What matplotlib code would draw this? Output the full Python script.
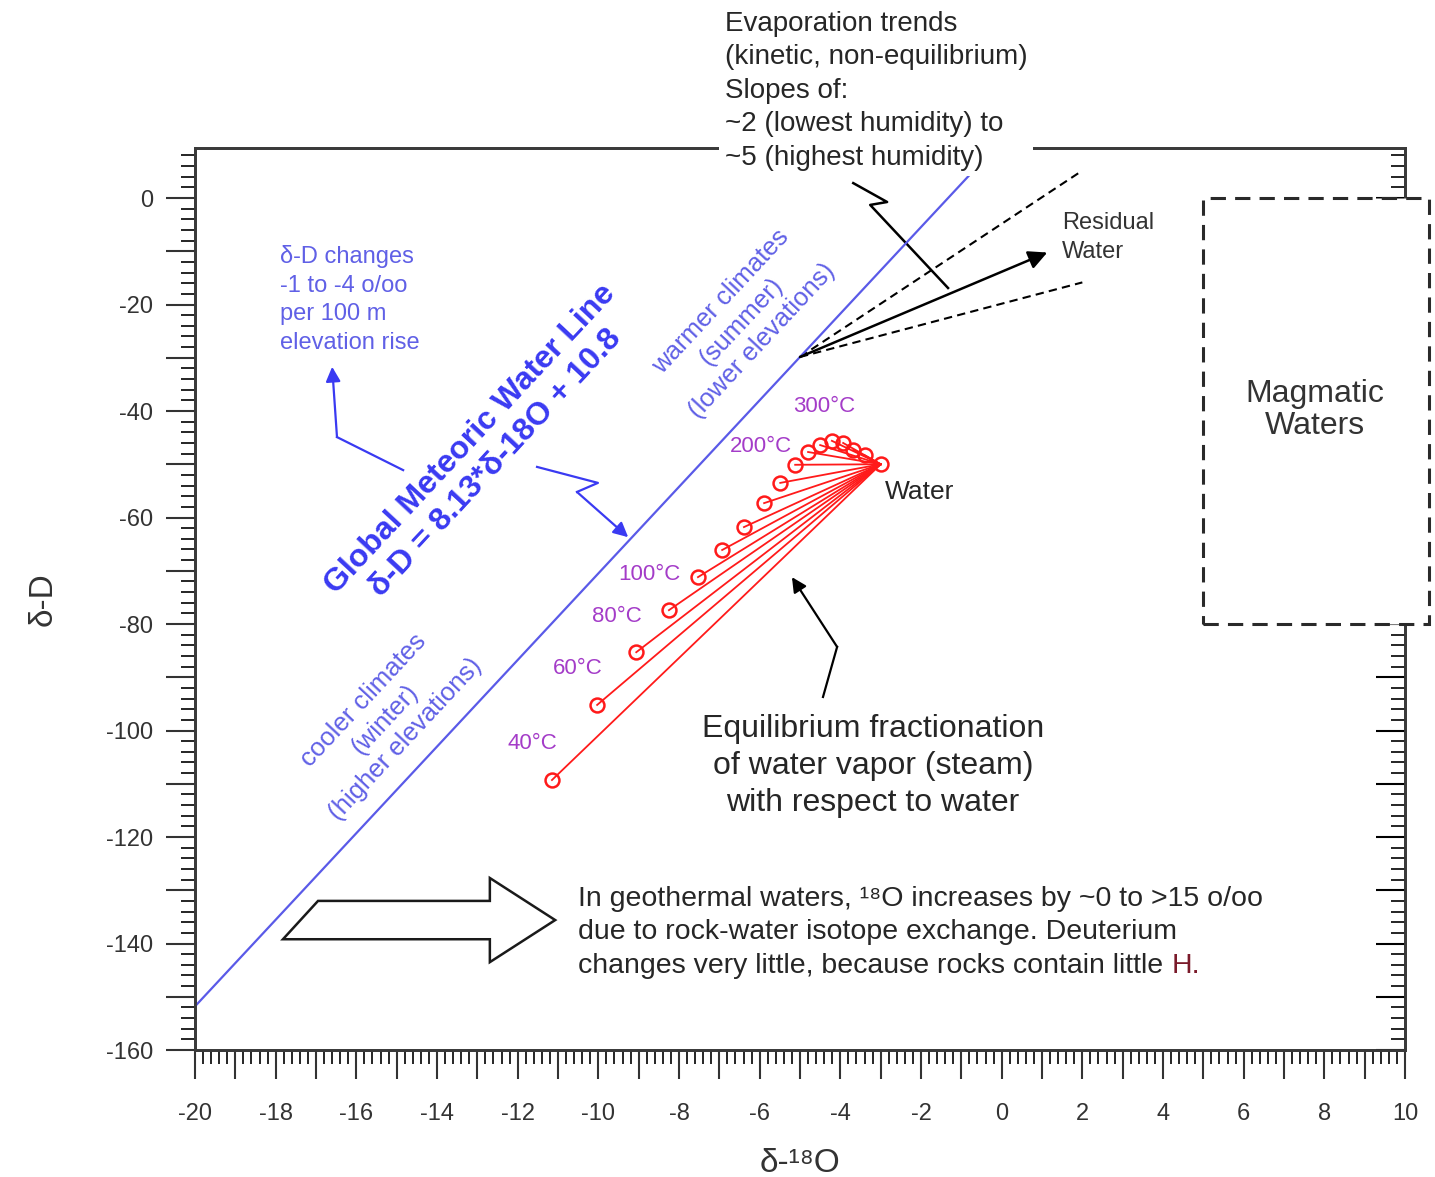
import numpy as np
import matplotlib
matplotlib.use("Agg")
import matplotlib.pyplot as plt
from matplotlib.patches import Rectangle, Polygon
from matplotlib.ticker import MultipleLocator, FuncFormatter

plt.rcParams['font.family'] = ['Liberation Sans', 'DejaVu Sans']

# Global meteoric water line: dD = 8.13 * d18O + 10.8
gmwl_slope = 8.13
gmwl_icpt = 10.8
gmwl_x = [-20.0, -0.75]

# water and equilibrium vapor compositions at each temperature
water = (-3.0, -50.0)
temps = [40, 60, 80, 100, 120, 140, 160, 180, 200, 220, 240, 260, 280, 300, 320, 340]
vapor_d18O = [-11.15, -10.03, -9.06, -8.25, -7.53, -6.93, -6.39, -5.89, -5.49,
              -5.12, -4.80, -4.50, -4.21, -3.93, -3.68, -3.40]
vapor_dD = [-109.3, -95.2, -85.3, -77.4, -71.2, -66.1, -61.8, -57.3, -53.5,
            -50.1, -47.7, -46.4, -45.6, -46.0, -47.3, -48.3]
labelled_temps = [40, 60, 80, 100, 200, 300]

# evaporation trend lines, starting on the GMWL
evap_start_x = -5.0
evap_ends_x = [2.0, 1.13, 2.0]
evap_slopes = [5.0, 3.2, 2.0]

# magmatic water box (d18O range, dD range)
magmatic_x = [5.0, 10.6]
magmatic_y = [-80.0, 0.0]

blue_line = '#5a5ae8'
blue_text = '#3a3af2'
climate_col = '#6060e6'
purple = '#a43cc8'
red = '#ff1a1a'
dark = '#262626'

fig = plt.figure(figsize=(14.35, 11.77), dpi=100)
ax = fig.add_axes([0.1359, 0.1079, 0.8432, 0.7664])
ax.set_xlim(-20, 10)
ax.set_ylim(-160, 9.4)

# axes styling
for s in ax.spines.values():
    s.set_linewidth(2)
    s.set_color('#3a3a3a')
ax.xaxis.set_major_locator(MultipleLocator(1))
ax.xaxis.set_minor_locator(MultipleLocator(0.2))
ax.xaxis.set_major_formatter(FuncFormatter(lambda v, p: '%d' % v if round(v) % 2 == 0 else ''))
ax.yaxis.set_major_locator(MultipleLocator(10))
ax.yaxis.set_minor_locator(MultipleLocator(2))
ax.yaxis.set_major_formatter(FuncFormatter(lambda v, p: '%d' % v if round(v) % 20 == 0 else ''))
ax.tick_params(axis='x', which='major', direction='out', length=21, width=1.5, pad=17,
               labelsize=17, colors='#333333', top=False)
ax.tick_params(axis='x', which='minor', direction='out', length=10, width=1.2, top=False)
ax.tick_params(axis='y', which='major', direction='out', length=21, width=1.5, pad=9,
               labelsize=17, colors='#333333', right=False)
ax.tick_params(axis='y', which='minor', direction='out', length=10, width=1.2, right=False)

ax2 = ax.twinx()
ax2.set_ylim(ax.get_ylim())
ax2.yaxis.set_major_locator(MultipleLocator(10))
ax2.yaxis.set_minor_locator(MultipleLocator(2))
ax2.tick_params(axis='y', which='major', direction='in', length=21, width=1.5, labelright=False)
ax2.tick_params(axis='y', which='minor', direction='in', length=10, width=1.2)
for s in ax2.spines.values():
    s.set_linewidth(2)
    s.set_color('#3a3a3a')

ax.set_xlabel('δ-¹⁸O', fontsize=24, color='#333333', labelpad=17)
ax.set_ylabel('δ-D', fontsize=24, color='#333333', labelpad=34)

# GMWL
gx = np.array(gmwl_x)
ax.plot(gx, gmwl_slope * gx + gmwl_icpt, color=blue_line, lw=1.6, zorder=3)

# equilibrium vapor tie lines and points
for vx, vy in zip(vapor_d18O, vapor_dD):
    ax.plot([water[0], vx], [water[1], vy], color=red, lw=1.3, zorder=4)
ax.plot(vapor_d18O, vapor_dD, 'o', mfc='none', mec=red, mew=1.8, ms=10, zorder=5)
ax.plot([water[0]], [water[1]], 'o', mfc='none', mec=red, mew=1.8, ms=10, zorder=5)
for t, vx, vy in zip(temps, vapor_d18O, vapor_dD):
    if t in labelled_temps:
        ax.annotate('%d°C' % t, (vx, vy), xytext=(-14, 26), textcoords='offset points',
                    ha='center', va='center', fontsize=16, color=purple)

# evaporation trends
evap_y0 = gmwl_slope * evap_start_x + gmwl_icpt
for i, (ex, sl) in enumerate(zip(evap_ends_x, evap_slopes)):
    ey = evap_y0 + sl * (ex - evap_start_x)
    if i == 1:
        ax.annotate('', xy=(ex, ey), xytext=(evap_start_x, evap_y0),
                    arrowprops=dict(arrowstyle='-|>', color='black', lw=1.8,
                                    mutation_scale=28, shrinkA=0, shrinkB=0))
    else:
        ax.plot([evap_start_x, ex], [evap_y0, ey], color='black', lw=1.5, ls=(0, (4, 2.5)))

fig.text(725 / 1435, 1 - 11 / 1177,
         'Evaporation trends\n(kinetic, non-equilibrium)\nSlopes of:\n~2 (lowest humidity) to\n~5 (highest humidity)',
         ha='left', va='top', fontsize=20, color=dark, linespacing=1.37,
         bbox=dict(facecolor='white', edgecolor='none', pad=4))
ax.plot([-3.68, -2.84, -3.26, -1.33], [2.8, -0.75, -1.3, -16.9], color='black', lw=1.8)
ax.text(1.5, -2.6, 'Residual\nWater', ha='left', va='top', fontsize=17, color='#333333',
        linespacing=1.45)

# GMWL annotation
ax.text(-12.85, -47.5, 'Global Meteoric Water Line\nδ-D = 8.13*δ-18O + 10.8', rotation=47,
        rotation_mode='anchor', ha='center', va='center', fontsize=23, fontweight='bold',
        color=blue_text, linespacing=1.2)
ax.text(-17.9, -8.8, 'δ-D changes\n-1 to -4 o/oo\nper 100 m\nelevation rise', ha='left', va='top',
        fontsize=17, color=climate_col, linespacing=1.4)
ax.plot([-14.84, -16.48], [-51.1, -44.9], color=blue_text, lw=1.6)
ax.annotate('', xy=(-16.60, -31.7), xytext=(-16.48, -44.9),
            arrowprops=dict(arrowstyle='-|>', color=blue_text, lw=1.6, mutation_scale=22,
                            shrinkA=0, shrinkB=0))
ax.plot([-11.52, -10.01, -10.53], [-50.5, -53.5, -55.2], color=blue_text, lw=1.6)
ax.annotate('', xy=(-9.26, -63.7), xytext=(-10.53, -55.2),
            arrowprops=dict(arrowstyle='-|>', color=blue_text, lw=1.6, mutation_scale=22,
                            shrinkA=0, shrinkB=0))
ax.text(-6.45, -23.2, 'warmer climates\n(summer)\n(lower elevations)', rotation=47,
        rotation_mode='anchor', ha='center', va='center', fontsize=18.5, color=climate_col,
        linespacing=1.25)
ax.text(-15.3, -98.0, 'cooler climates\n(winter)\n(higher elevations)', rotation=47,
        rotation_mode='anchor', ha='center', va='center', fontsize=18.5, color=climate_col,
        linespacing=1.25)

# equilibrium annotation
ax.text(-2.89, -55.2, 'Water', ha='left', va='center', fontsize=19, color=dark)
ax.text(-3.19, -106.7, 'Equilibrium fractionation\nof water vapor (steam)\nwith respect to water',
        ha='center', va='center', fontsize=23, color=dark, linespacing=1.3)
ax.plot([-4.43, -4.08], [-93.7, -84.3], color='black', lw=1.6)
ax.annotate('', xy=(-5.20, -71.2), xytext=(-4.08, -84.3),
            arrowprops=dict(arrowstyle='-|>', color='black', lw=1.6, mutation_scale=22,
                            shrinkA=0, shrinkB=0))

# hollow arrow for rock-water exchange
arrow_pts = [(-16.95, -132.0), (-12.69, -132.0), (-12.69, -127.7), (-11.07, -135.6),
             (-12.69, -143.5), (-12.69, -139.2), (-17.82, -139.2)]
ax.add_patch(Polygon(arrow_pts, closed=True, facecolor='white', edgecolor='#1a1a1a', lw=1.8, zorder=4))
geo_size = 20.5
ax.text(-10.5, -131.6, 'In geothermal waters, ¹⁸O increases by ~0 to >15 o/oo',
        ha='left', va='center', fontsize=geo_size, color=dark)
ax.text(-10.5, -137.9, 'due to rock-water isotope exchange. Deuterium',
        ha='left', va='center', fontsize=geo_size, color=dark)
t3 = ax.text(-10.5, -144.2, 'changes very little, because rocks contain little ',
             ha='left', va='center', fontsize=geo_size, color=dark)
fig.canvas.draw()
bb = t3.get_window_extent(renderer=fig.canvas.get_renderer())
ax.annotate('H.', xy=(bb.x1, (bb.y0 + bb.y1) / 2), xycoords='figure pixels',
            ha='left', va='center', fontsize=geo_size, color='#7a1a2a')

# magmatic waters
ax2.add_patch(Rectangle((magmatic_x[0], magmatic_y[0]), magmatic_x[1] - magmatic_x[0],
                        magmatic_y[1] - magmatic_y[0], facecolor='white', edgecolor='#2a2a2a',
                        lw=2.2, ls=(0, (5, 3)), clip_on=False, zorder=10))
ax2.text(7.77, -39.8, 'Magmatic\nWaters', ha='center', va='center',
         fontsize=23, color='#333333', zorder=11, linespacing=1.1)

fig.savefig('out.png', dpi=100)
